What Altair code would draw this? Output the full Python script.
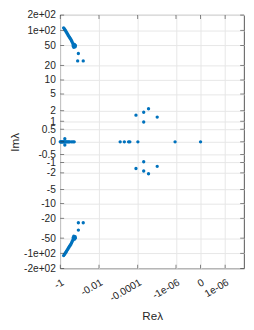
import altair as alt
import pandas as pd

# ---- data ----
# upper branch of complex eigenvalues (Re, Im)
upper_re = [-0.668, -0.61, -0.562, -0.519, -0.484, -0.447, -0.412, -0.385, -0.355, -0.327,
            -0.305, -0.282, -0.26, -0.243, -0.224, -0.21, -0.2, -0.19, -0.178, -0.2,
            -0.17, -0.215, -0.185, -0.165, -0.116, -0.126, -0.065]
upper_im = [112, 107, 102, 96.8, 92.4, 87.8, 83.9, 79.4, 75.8, 72.3,
            69.1, 65.9, 62.1, 58.8, 55, 52, 50, 48, 50, 46,
            47, 49, 52.5, 50, 34.6, 24.6, 24.6]
# lower branch
lower_re = [-0.668, -0.61, -0.562, -0.519, -0.484, -0.447, -0.412, -0.385, -0.355, -0.327,
            -0.305, -0.282, -0.26, -0.243, -0.224, -0.21, -0.2, -0.19, -0.178, -0.2,
            -0.17, -0.215, -0.185, -0.165, -0.116, -0.116, -0.065]
lower_im = [-111, -106, -101, -96, -92, -87.5, -83.5, -79, -75.5, -72,
            -69, -66, -62, -58.5, -55, -52, -50, -48, -50, -46,
            -47, -49, -52.5, -50, -34.6, -24.6, -24.6]
# real eigenvalues
real_re = [-1.0, -0.95, -0.9, -0.85, -0.8, -0.75, -0.7, -0.65, -0.6, -0.55, -0.5, -0.45,
           -0.4, -0.36, -0.32, -0.26, -0.22, -0.19, -0.58, -0.58,
           -8.06e-4, -4.9e-4, -2.96e-4, -2.55e-4, -9.8e-5, -1.12e-6, 0.0]
real_im = [0, 0, 0, 0, 0, 0, 0, 0, 0, 0, 0, 0,
           0, 0, 0, 0, 0, 0, 0.1, -0.1,
           0, 0, 0, 0, 0, 0, 0]
# slow complex pairs near the origin
slow_re = [-1.23e-4, -1.23e-4, -4.9e-5, -4.9e-5, -4.9e-5, -4.9e-5, -2.76e-5, -2.76e-5, -9.8e-6, -9.8e-6]
slow_im = [1.52, -1.52, 1.82, -1.78, 0.94, -0.95, 2.25, -2.1, 1.34, -1.32]

x_ticks = [-1, -0.01, -0.0001, -1e-06, 0, 1e-06]
x_labels = ["-1", "-0.01", "-0.0001", "-1e-06", "0", "1e-06"]
y_ticks = [-200, -100, -50, -20, -10, -5, -2, -1, -0.5, 0, 0.5, 1, 2, 5, 10, 20, 50, 100, 200]
y_labels = ["-2e+02", "-1e+02", "-50", "-20", "-10", "-5", "-2", "-1", "-0.5", "0",
            "0.5", "1", "2", "5", "10", "20", "50", "1e+02", "2e+02"]

df = pd.DataFrame({
    "re": upper_re + lower_re + real_re + slow_re,
    "im": upper_im + lower_im + real_im + slow_im,
})


def label_expr(vals, labels):
    expr = "''"
    for v, l in reversed(list(zip(vals, labels))):
        expr = f"datum.value == {v!r} ? '{l}' : {expr}"
    return expr


W, H = 190, 262
FONT = "Liberation Sans"
DARK = "#262626"

xscale = alt.Scale(type="symlog", constant=5.7e-8, domain=[-1, 1e-5], nice=False, zero=False)
yscale = alt.Scale(type="symlog", constant=0.65, domain=[-200, 200], nice=False, zero=False)

xaxis = alt.Axis(values=x_ticks, labelExpr=label_expr(x_ticks, x_labels), title="Reλ",
                 grid=True, ticks=False, tickSize=0, domain=False,
                 labelAngle=330, labelAlign="right", labelBaseline="top", labelPadding=9,
                 labelFont=FONT, labelFontSize=10.5, labelColor=DARK, labelOverlap=False,
                 labelFlush=False, titleFont=FONT, titleFontSize=12, titleColor=DARK,
                 titleFontWeight="normal", titleX=W / 2, titleY=49, titleBaseline="middle",
                 titleAlign="center")
yaxis = alt.Axis(values=y_ticks, labelExpr=label_expr(y_ticks, y_labels), title="Imλ",
                 grid=True, ticks=False, tickSize=0, domain=False, labelPadding=5,
                 labelFont=FONT, labelFontSize=10.5, labelColor=DARK, labelOverlap=False,
                 labelFlush=False, titleFont=FONT, titleFontSize=12, titleColor=DARK,
                 titleFontWeight="normal", titleX=-47, titleY=H / 2, titleBaseline="middle",
                 titleAlign="center")

points = alt.Chart(df).mark_circle(size=12, color="#0072BD", opacity=1).encode(
    x=alt.X("re:Q", scale=xscale, axis=xaxis),
    y=alt.Y("im:Q", scale=yscale, axis=yaxis),
)

ydf = pd.DataFrame({"im": y_ticks})
xdf = pd.DataFrame({"re": x_ticks})
tick_style = dict(color=DARK, thickness=0.8, size=4)
yt_left = alt.Chart(ydf).mark_tick(orient="horizontal", **tick_style).encode(
    y=alt.Y("im:Q", scale=yscale, axis=yaxis), x=alt.value(2))
yt_right = alt.Chart(ydf).mark_tick(orient="horizontal", **tick_style).encode(
    y=alt.Y("im:Q", scale=yscale, axis=yaxis), x=alt.value(W - 2))
xt_top = alt.Chart(xdf).mark_tick(orient="vertical", **tick_style).encode(
    x=alt.X("re:Q", scale=xscale, axis=xaxis), y=alt.value(2))
xt_bot = alt.Chart(xdf).mark_tick(orient="vertical", **tick_style).encode(
    x=alt.X("re:Q", scale=xscale, axis=xaxis), y=alt.value(H - 2))

chart = alt.layer(points, yt_left, yt_right, xt_top, xt_bot).properties(
    width=W, height=H,
    autosize=alt.AutoSizeParams(type="none"),
    padding={"left": 54, "top": 2, "right": 2, "bottom": 52},
).configure_view(stroke=DARK, strokeWidth=0.8).configure_axis(
    gridColor="#e6e6e6", gridWidth=1
)

chart.save("out.html", embed_options={"renderer": "svg", "actions": False})
